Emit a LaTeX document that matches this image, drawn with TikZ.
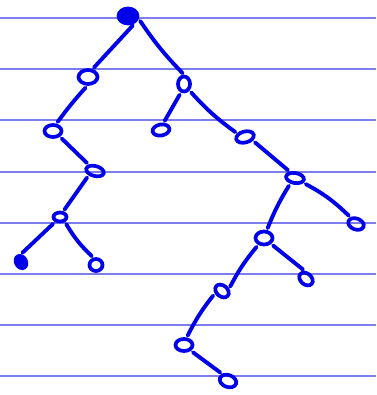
\documentclass[tikz,border=0pt]{standalone}
\usetikzlibrary{shapes.geometric}
\definecolor{ink}{RGB}{0,0,235}
\definecolor{rule}{RGB}{125,125,240}
\begin{document}
\begin{tikzpicture}[x=1pt,y=-1pt,
  knot/.style={ellipse,draw=ink,line width=3.7pt,minimum width=15pt,minimum height=11pt,inner sep=0pt},
  fullknot/.style={knot,fill=ink},
  branch/.style={draw=ink,line width=3.9pt,line cap=round,shorten <=2.5pt,shorten >=2pt},
  ruleline/.style={draw=rule,line width=1.3pt}]
\useasboundingbox (0,0) rectangle (376,395);
\foreach \yy [count=\i] in {18,69,120,172,223,274,325,376}
  {\coordinate (l\i a) at (0,\yy); \coordinate (l\i b) at (376,\yy);
   \draw[ruleline] (l\i a) -- (l\i b);}
\node[fullknot,minimum width=19pt,minimum height=15pt] (r) at (128,16) {};
\node[knot,minimum width=19pt,minimum height=14pt] (a) at (88,77) {};
\node[knot,minimum width=12pt,minimum height=15pt] (b) at (184,84) {};
\node[knot,minimum width=17pt,minimum height=12pt] (c) at (53,131) {};
\node[knot,minimum width=17pt,minimum height=11pt,rotate=10] (d) at (161,130) {};
\node[knot,minimum width=18pt,minimum height=11pt,rotate=15] (f) at (245,137) {};
\node[knot,minimum width=18pt,minimum height=10pt,rotate=-15] (e) at (95,171) {};
\node[knot,minimum width=18pt,minimum height=10pt,rotate=-10] (g) at (295,178) {};
\node[knot,minimum width=13pt,minimum height=9pt] (h) at (60,217) {};
\node[fullknot,minimum width=10pt,minimum height=13pt,rotate=30] (i) at (21,262) {};
\node[knot,minimum width=13pt,minimum height=12pt] (j) at (96,265) {};
\node[knot,minimum width=17pt,minimum height=13pt] (k) at (264,238) {};
\node[knot,minimum width=16pt,minimum height=11pt,rotate=-20] (l) at (356,224) {};
\node[knot,minimum width=15pt,minimum height=11pt,rotate=-40] (m) at (222,291) {};
\node[knot,minimum width=15pt,minimum height=11pt,rotate=-40] (n) at (306,279) {};
\node[knot,minimum width=17pt,minimum height=12pt] (o) at (184,345) {};
\node[knot,minimum width=17pt,minimum height=12pt,rotate=-20] (p) at (228,381) {};
\path[branch] (r.-50) -- (a.60);
\path[branch] (r.-15) to[bend right=5] (b.north);
\path[branch] (a.-95) to[bend right=3] (c.65);
\path[branch] (b.-110) -- (d.60);
\path[branch] (b.-50) to[bend right=6] (f.140);
\path[branch] (c.-40) -- (e.150);
\path[branch] (f.-40) -- (g.140);
\path[branch] (e.-130) -- (h.60);
\path[branch] (h.-135) -- (i.60);
\path[branch] (h.-45) to[bend right=8] (j.110);
\path[branch] (g.-120) to[bend right=5] (k.70);
\path[branch] (g.-20) to[bend left=8] (l.150);
\path[branch] (k.-130) to[bend right=6] (m.60);
\path[branch] (k.-40) -- (n.140);
\path[branch] (m.-120) to[bend right=6] (o.70);
\path[branch] (o.-40) -- (p.150);
\end{tikzpicture}
\end{document}
